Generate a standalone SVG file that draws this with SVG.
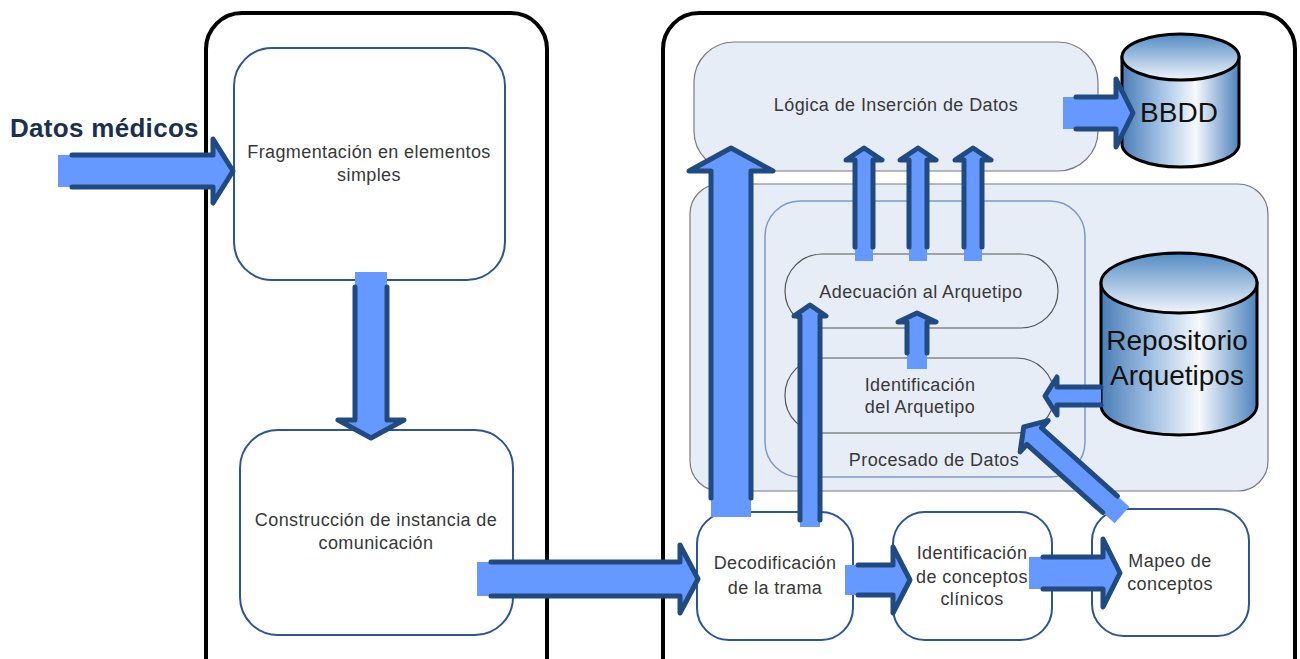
<svg xmlns="http://www.w3.org/2000/svg" width="1300" height="659" viewBox="0 0 1300 659">
<defs>
<linearGradient id="cylBody" x1="0" y1="0" x2="1" y2="0">
<stop offset="0" stop-color="#4a7db7"/>
<stop offset="0.33" stop-color="#a3c2e3"/>
<stop offset="0.63" stop-color="#f6f9fd"/>
<stop offset="1" stop-color="#4d82bd"/>
</linearGradient>
<linearGradient id="cylTop" x1="0" y1="0" x2="0" y2="1">
<stop offset="0" stop-color="#538bc4"/>
<stop offset="1" stop-color="#f0f5fb"/>
</linearGradient>
<style>
.panel{fill:#fff;stroke:#000;stroke-width:4}
.bnode{fill:#fff;stroke:#2c5691;stroke-width:2}
.region{fill:#e7edf7;stroke:#7a7a7a;stroke-width:1.2}
.inner{fill:#e7edf7;stroke:#7e9bc2;stroke-width:1.5}
.pill{fill:#e7edf7;stroke:#555;stroke-width:1.2}
.t{font-family:"Liberation Sans",Arial,sans-serif;font-size:18px;fill:#383838;text-anchor:middle;letter-spacing:0.4px}
.big{font-family:"Liberation Sans",Arial,sans-serif;font-size:28px;fill:#111;text-anchor:middle}
.af{fill:#6699ff}
.as{fill:none;stroke:#204a80;stroke-width:5;stroke-linejoin:round;stroke-linecap:round}
.cylb{fill:url(#cylBody);stroke:#000;stroke-width:3}
.cylt{fill:url(#cylTop);stroke:#000;stroke-width:3}
</style>
</defs>

<g id="panel-left"><rect class="panel" x="206" y="13" width="341" height="690" rx="36"/></g>
<g id="panel-right"><rect class="panel" x="663" y="13" width="632" height="690" rx="36"/></g>

<g id="label-datos"><text x="10" y="137" font-family="Liberation Sans, Arial, sans-serif" font-size="26" font-weight="bold" fill="#1b3050" letter-spacing="0.3">Datos médicos</text></g>

<g id="node-fragmentacion">
<rect class="bnode" x="234" y="48" width="271" height="232" rx="38"/>
<text class="t" x="369" y="158">Fragmentación en elementos</text>
<text class="t" x="369" y="181">simples</text>
</g>

<g id="node-construccion">
<rect class="bnode" x="240" y="430" width="273" height="205" rx="38"/>
<text class="t" x="376" y="526">Construcción de instancia de</text>
<text class="t" x="376" y="549">comunicación</text>
</g>

<g id="node-logica">
<rect class="region" x="694" y="42" width="404" height="129" rx="40"/>
<text class="t" x="896" y="111">Lógica de Inserción de Datos</text>
</g>

<g id="region-procesado">
<rect class="region" x="690" y="184" width="578" height="307" rx="30"/>
</g>

<g id="node-procesado">
<rect class="inner" x="765" y="201" width="320" height="276" rx="35"/>
<text class="t" x="934" y="466">Procesado de Datos</text>
</g>

<g id="node-adecuacion">
<rect class="pill" x="785" y="254" width="273" height="74" rx="37"/>
<text class="t" x="921" y="298">Adecuación al Arquetipo</text>
</g>

<g id="node-identificacion-arquetipo">
<rect class="pill" x="785" y="358" width="269" height="75" rx="37"/>
<text class="t" x="920" y="391">Identificación</text>
<text class="t" x="920" y="413">del Arquetipo</text>
</g>

<g id="node-decodificacion">
<rect class="bnode" x="697" y="512" width="156" height="128" rx="32"/>
<text class="t" x="775" y="569">Decodificación</text>
<text class="t" x="775" y="594">de la trama</text>
</g>

<g id="node-conceptos">
<rect class="bnode" x="893" y="512" width="159" height="128" rx="32"/>
<text class="t" x="972" y="559">Identificación</text>
<text class="t" x="972" y="583">de conceptos</text>
<text class="t" x="972" y="605">clínicos</text>
</g>

<g id="node-mapeo">
<rect class="bnode" x="1092" y="509" width="157" height="127" rx="32"/>
<text class="t" x="1170" y="567">Mapeo de</text>
<text class="t" x="1170" y="590">conceptos</text>
</g>

<g id="node-bbdd">
<path class="cylb" d="M1122,57 L1122,144 A58.5,23 0 0 0 1239,144 L1239,57 Z"/>
<ellipse class="cylt" cx="1180.5" cy="57" rx="58.5" ry="23"/>
<text class="big" x="1179" y="122">BBDD</text>
</g>

<g id="node-repositorio">
<path class="cylb" d="M1101,283 L1101,405 A78,30 0 0 0 1257,405 L1257,283 Z"/>
<ellipse class="cylt" cx="1179" cy="283" rx="78" ry="30"/>
<text class="big" x="1177" y="350">Repositorio</text>
<text class="big" x="1177" y="385">Arquetipos</text>
</g>

<g id="connectors">
<g transform="translate(58,171)">
<polygon class="af" points="0,-16 155,-16 155,-32 175,0 155,32 155,16 0,16"/>
<path class="as" d="M14,-16 L155,-16 L155,-32 L175,0 L155,32 L155,16 L14,16"/>
</g>
<g transform="translate(371,272) rotate(90)">
<polygon class="af" points="0,-16 148,-16 148,-33 166,0 148,33 148,16 0,16"/>
<path class="as" d="M15,-16 L148,-16 L148,-33 L166,0 L148,33 L148,16 L15,16"/>
</g>
<g transform="translate(477,579)">
<polygon class="af" points="0,-17 203,-17 203,-34 221,0 203,34 203,17 0,17"/>
<path class="as" d="M14,-17 L203,-17 L203,-34 L221,0 L203,34 L203,17 L14,17"/>
</g>
<g transform="translate(731,517) rotate(-90)">
<polygon class="af" points="0,-20 346,-20 346,-42 369,0 346,42 346,20 0,20"/>
<path class="as" d="M19,-20 L346,-20 L346,-42 L369,0 L346,42 L346,20 L19,20"/>
</g>
<g transform="translate(864,261) rotate(-90)">
<polygon class="af" points="0,-9 101,-9 101,-18 113,0 101,18 101,9 0,9"/>
<path class="as" d="M14,-9 L101,-9 L101,-18 L113,0 L101,18 L101,9 L14,9"/>
</g>
<g transform="translate(918,261) rotate(-90)">
<polygon class="af" points="0,-9 101,-9 101,-18 113,0 101,18 101,9 0,9"/>
<path class="as" d="M14,-9 L101,-9 L101,-18 L113,0 L101,18 L101,9 L14,9"/>
</g>
<g transform="translate(973,261) rotate(-90)">
<polygon class="af" points="0,-9 101,-9 101,-18 113,0 101,18 101,9 0,9"/>
<path class="as" d="M14,-9 L101,-9 L101,-18 L113,0 L101,18 L101,9 L14,9"/>
</g>
<g transform="translate(810,527) rotate(-90)">
<polygon class="af" points="0,-10 211,-10 211,-16 222,0 211,16 211,10 0,10"/>
<path class="as" d="M7,-10 L211,-10 L211,-16 L222,0 L211,16 L211,10 L7,10"/>
</g>
<g transform="translate(917,369) rotate(-90)">
<polygon class="af" points="0,-10 47,-10 47,-19 56,0 47,19 47,10 0,10"/>
<path class="as" d="M16,-10 L47,-10 L47,-19 L56,0 L47,19 L47,10 L16,10"/>
</g>
<g transform="translate(1101,396) rotate(180)">
<polygon class="af" points="0,-9 44,-9 44,-19 56,0 44,19 44,9 0,9"/>
<path class="as" d="M0,-9 L44,-9 L44,-19 L56,0 L44,19 L44,9 L0,9"/>
</g>
<g transform="translate(1122,515) rotate(221.9)">
<polygon class="af" points="0,-11 118,-11 118,-21 132,0 118,21 118,11 0,11"/>
<path class="as" d="M16,-11 L118,-11 L118,-21 L132,0 L118,21 L118,11 L16,11"/>
</g>
<g transform="translate(845,580)">
<polygon class="af" points="0,-15 48,-15 48,-33 65,0 48,33 48,15 0,15"/>
<path class="as" d="M13,-15 L48,-15 L48,-33 L65,0 L48,33 L48,15 L13,15"/>
</g>
<g transform="translate(1029,573)">
<polygon class="af" points="0,-16 74,-16 74,-34 91,0 74,34 74,16 0,16"/>
<path class="as" d="M14,-16 L74,-16 L74,-34 L91,0 L74,34 L74,16 L14,16"/>
</g>
<g transform="translate(1063,113)">
<polygon class="af" points="0,-16 53,-16 53,-34 70,0 53,34 53,16 0,16"/>
<path class="as" d="M13,-16 L53,-16 L53,-34 L70,0 L53,34 L53,16 L13,16"/>
</g>
</g>
</svg>
